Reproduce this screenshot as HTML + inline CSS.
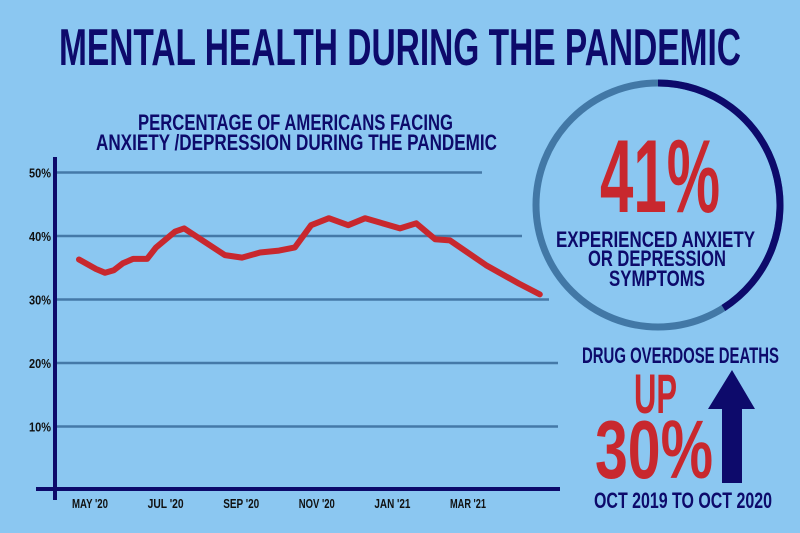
<!DOCTYPE html>
<html><head><meta charset="utf-8"><style>
html,body{margin:0;padding:0;background:#8bc7f1;}
svg{display:block;}
text{font-family:"Liberation Sans",sans-serif;font-weight:bold;}
</style></head><body>
<svg id="chart" width="800" height="533" viewBox="0 0 800 533">
<rect width="800" height="533" fill="#8bc7f1"/>
<text x="59" y="65" font-size="52" fill="#0d0a6b" textLength="682" lengthAdjust="spacingAndGlyphs">MENTAL HEALTH DURING THE PANDEMIC</text>
<text x="138" y="130" font-size="22" fill="#0d0a6b" textLength="315" lengthAdjust="spacingAndGlyphs">PERCENTAGE OF AMERICANS FACING</text>
<text x="96" y="150" font-size="22" fill="#0d0a6b" textLength="401" lengthAdjust="spacingAndGlyphs">ANXIETY /DEPRESSION DURING THE PANDEMIC</text>
<g id="grid"></g>
<g id="ylabels"></g>
<g id="xlabels"></g>
<line x1="55" y1="157" x2="55" y2="500" stroke="#0d0a6b" stroke-width="4"/>
<line x1="36" y1="489" x2="560" y2="489" stroke="#0d0a6b" stroke-width="4"/>
<polyline id="series" fill="none" stroke="#c8282e" stroke-width="6" stroke-linejoin="round" stroke-linecap="round"/>

<circle cx="658" cy="205" r="122" fill="none" stroke="#4278a6" stroke-width="7"/>
<path id="arc" fill="none" stroke="#0d0a6b" stroke-width="7"/>
<text x="600" y="212" font-size="104" fill="#c8282e" textLength="120" lengthAdjust="spacingAndGlyphs">41%</text>
<text x="556" y="247" font-size="22" fill="#0d0a6b" textLength="199" lengthAdjust="spacingAndGlyphs">EXPERIENCED ANXIETY</text>
<text x="588" y="266" font-size="22" fill="#0d0a6b" textLength="138" lengthAdjust="spacingAndGlyphs">OR DEPRESSION</text>
<text x="609" y="286" font-size="22" fill="#0d0a6b" textLength="96" lengthAdjust="spacingAndGlyphs">SYMPTOMS</text>

<text x="582" y="363" font-size="22" fill="#0d0a6b" textLength="197" lengthAdjust="spacingAndGlyphs">DRUG OVERDOSE DEATHS</text>
<text x="634" y="413" font-size="56" fill="#c8282e" textLength="43" lengthAdjust="spacingAndGlyphs">UP</text>
<text x="595" y="478" font-size="83" fill="#c8282e" textLength="118" lengthAdjust="spacingAndGlyphs">30%</text>
<polygon points="732,370 755,409 742,409 742,483 722,483 722,409 708,409" fill="#0d0a6b"/>
<text x="594" y="508" font-size="22" fill="#0d0a6b" textLength="178" lengthAdjust="spacingAndGlyphs">OCT 2019 TO OCT 2020</text>
</svg>
<script>
const yTicks=[10,20,30,40,50];
const yTickLabels=["10%","20%","30%","40%","50%"];
const xTickMonths=[0,2,4,6,8,10];
const xTickLabels=["MAY '20","JUL '20","SEP '20","NOV '20","JAN '21","MAR '21"];
const pointMonths=[-0.29,0.16,0.40,0.63,0.87,1.14,1.51,1.75,2.25,2.49,3.57,4.02,4.50,5.00,5.42,5.85,6.32,6.83,7.28,8.20,8.63,9.13,9.52,10.48,11.35,11.90];
const pointValues=[36.3,34.8,34.2,34.6,35.7,36.4,36.4,38.2,40.7,41.2,37.0,36.6,37.4,37.7,38.2,41.7,42.8,41.7,42.8,41.2,42.0,39.5,39.3,35.4,32.5,30.8];
const ringPercent=41;
const gridEnds={10:558,20:558,30:549,40:522,50:482};

function yScale(v){return 490-v*6.35;}
function xScale(m){return 90+m*37.8;}
const NS="http://www.w3.org/2000/svg";
const grid=document.getElementById('grid'),yl=document.getElementById('ylabels'),xl=document.getElementById('xlabels');
yTicks.forEach((t,i)=>{
 const l=document.createElementNS(NS,'line');
 l.setAttribute('x1',57);l.setAttribute('x2',gridEnds[t]);
 l.setAttribute('y1',yScale(t));l.setAttribute('y2',yScale(t));
 l.setAttribute('stroke','#4479a8');l.setAttribute('stroke-width','2.5');
 
 
 grid.appendChild(l);
 const tx=document.createElementNS(NS,'text');
 tx.setAttribute('x',51);tx.setAttribute('y',yScale(t)+5);
 tx.setAttribute('text-anchor','end');tx.setAttribute('font-size','13');
 tx.setAttribute('fill','#111');tx.setAttribute('textLength','22');tx.setAttribute('lengthAdjust','spacingAndGlyphs');
 tx.textContent=yTickLabels[i];
 
 
 yl.appendChild(tx);
});
xTickMonths.forEach((m,i)=>{
 const tx=document.createElementNS(NS,'text');
 tx.setAttribute('x',xScale(m));tx.setAttribute('y',508);
 tx.setAttribute('text-anchor','middle');tx.setAttribute('font-size','13');
 tx.setAttribute('fill','#111');tx.setAttribute('textLength','36');tx.setAttribute('lengthAdjust','spacingAndGlyphs');
 tx.textContent=xTickLabels[i];
 
 
 xl.appendChild(tx);
});
document.getElementById('series').setAttribute('points',pointMonths.map((m,i)=>xScale(m).toFixed(1)+','+yScale(pointValues[i]).toFixed(1)).join(' '));
(function(){
 const cx=658,cy=205,r=122,a=ringPercent/100*2*Math.PI;
 const ex=cx+r*Math.sin(a),ey=cy-r*Math.cos(a);
 document.getElementById('arc').setAttribute('d',`M${cx},${cy-r} A${r},${r} 0 ${ringPercent>50?1:0} 1 ${ex.toFixed(1)},${ey.toFixed(1)}`);
})();
</script>
</body></html>
